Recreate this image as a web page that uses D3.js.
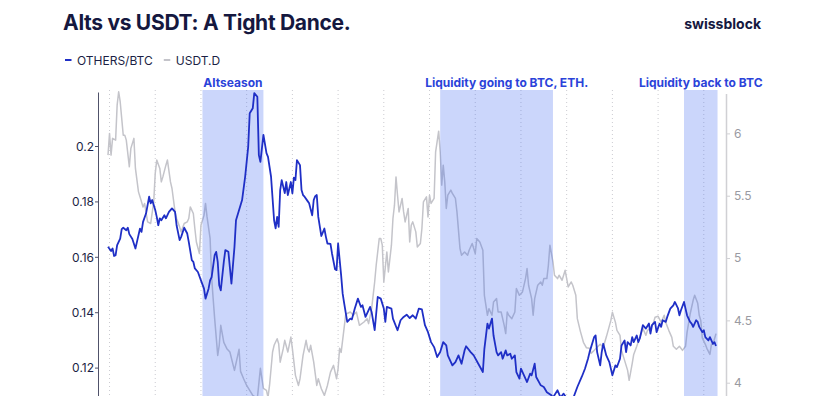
<!DOCTYPE html>
<html>
<head>
<meta charset="utf-8">
<script src="https://cdn.jsdelivr.net/npm/d3@7"></script>
<style>
  html, body { margin: 0; padding: 0; background: #fff; }
  svg { display: block; font-family: Inter, "Noto Sans", sans-serif; }
  .grid line { stroke: #cbcbd1; stroke-dasharray: 1,3; }
  .axis text { font-size: 12px; }
  .axis--left path, .axis--left line { stroke: #50526a; }
  .axis--left text { fill: #1c1f45; }
  .axis--right path, .axis--right line { stroke: #d0d0d4; }
  .axis--right text { fill: #9a9aa2; }
</style>
</head>
<body>
<div class="graphic-wrapper"></div>
<script>
// day offsets from startDay
const startDay = Date.UTC(2021, 0, 30);
const endDayOffset = 399;

const othersDay = [0,2,3,4,5,6,8,9,10,12,13,14,16,18,19,21,22,23,25,27,28,29,31,32,33,34,35,37,38,40,42,44,45,47,48,50,52,53,55,56,57,59,61,63,64,66,67,68,70,71,72,73,74,76,77,79,81,83,84,88,90,92,93,95,96,98,99,100,102,104,105,107,109,110,111,112,113,114,116,117,118,120,121,122,123,124,126,127,128,129,131,132,134,135,136,137,138,140,142,143,144,146,147,149,150,151,153,154,155,157,159,160,162,164,166,167,169,172,173,175,177,179,181,182,183,186,187,190,192,194,196,198,200,202,204,206,208,210,212,214,216,218,220,222,223,226,228,230,232,234,235,238,240,243,246,247,249,250,252,253,255,256,258,259,261,262,264,265,267,268,270,271,273,275,277,278,280,281,284,286,288,291,292,295,297,299,301,305,308,311,313,315,316,319,320,321,323,324,325,327,329,331,333,334,336,337,339,340,341,343,344,345,347,348,349,351,353,355,356,357,359,360,362,363,364,366,367,369,371,372,374,375,376,378,379,380,382,383,384,386,387,388,390,391,392,394,395,397,398,399];
const othersValue = [0.1636,0.1621,0.1630,0.1603,0.1606,0.1642,0.1666,0.1700,0.1705,0.1696,0.1705,0.1682,0.1664,0.1630,0.1654,0.1702,0.1690,0.1726,0.1757,0.1817,0.1793,0.1805,0.1769,0.1744,0.1714,0.1739,0.1732,0.1750,0.1739,0.1762,0.1775,0.1762,0.1714,0.1660,0.1672,0.1705,0.1684,0.1654,0.1588,0.1582,0.1558,0.1545,0.1515,0.1485,0.1449,0.1485,0.1515,0.1527,0.1606,0.1618,0.1582,0.1497,0.1479,0.1582,0.1624,0.1618,0.1503,0.1636,0.1732,0.1805,0.1889,0.1997,0.2118,0.2136,0.2191,0.2178,0.1967,0.1943,0.2040,0.1974,0.1961,0.1889,0.1732,0.1703,0.1744,0.1708,0.1841,0.1877,0.1830,0.1870,0.1823,0.1870,0.1829,0.1886,0.1877,0.1949,0.1931,0.1841,0.1823,0.1817,0.1801,0.1793,0.1750,0.1805,0.1819,0.1823,0.1744,0.1675,0.1702,0.1672,0.1648,0.1647,0.1612,0.1555,0.1552,0.1648,0.1533,0.1467,0.1432,0.1365,0.1377,0.1374,0.1414,0.1449,0.1419,0.1425,0.1383,0.1419,0.1401,0.1335,0.1455,0.1449,0.1413,0.1365,0.1419,0.1413,0.1377,0.1335,0.1371,0.1383,0.1391,0.1379,0.1389,0.1377,0.1413,0.1410,0.1353,0.1328,0.1292,0.1274,0.1238,0.1256,0.1292,0.1280,0.1244,0.1208,0.1220,0.1244,0.1214,0.1262,0.1277,0.1256,0.1244,0.1214,0.1184,0.1268,0.1359,0.1341,0.1377,0.1316,0.1256,0.1244,0.1256,0.1232,0.1262,0.1244,0.1250,0.1232,0.1244,0.1184,0.1160,0.1196,0.1172,0.1148,0.1178,0.1172,0.1214,0.1166,0.1136,0.1130,0.1111,0.1100,0.1092,0.1118,0.1092,0.1106,0.1089,0.1085,0.1130,0.1168,0.1196,0.1232,0.1255,0.1310,0.1316,0.1256,0.1208,0.1256,0.1286,0.1244,0.1220,0.1172,0.1208,0.1202,0.1232,0.1280,0.1298,0.1256,0.1292,0.1280,0.1310,0.1292,0.1316,0.1292,0.1305,0.1353,0.1341,0.1359,0.1323,0.1353,0.1365,0.1328,0.1359,0.1347,0.1371,0.1365,0.1383,0.1413,0.1425,0.1437,0.1415,0.1389,0.1407,0.1437,0.1413,0.1389,0.1365,0.1359,0.1347,0.1371,0.1365,0.1347,0.1328,0.1335,0.1310,0.1298,0.1310,0.1286,0.1292,0.1278];

const usdtDay = [0,1,2,3,5,6,7,8,10,11,12,14,15,17,18,20,21,23,24,26,28,30,31,32,34,35,36,38,39,41,42,44,45,47,48,50,52,53,54,56,57,58,60,61,63,64,65,67,68,69,70,72,73,74,76,78,80,82,83,86,87,89,91,93,95,98,100,102,104,105,106,108,109,111,112,113,115,116,118,120,121,123,125,126,128,130,131,132,133,135,137,138,140,142,144,146,148,150,151,152,153,155,156,159,161,163,165,168,170,171,173,175,176,178,179,180,181,183,184,186,187,188,189,190,191,193,194,195,197,198,199,200,202,203,205,206,207,209,210,211,212,214,215,217,218,219,220,221,222,223,225,226,228,229,231,232,234,236,237,239,241,242,244,246,247,249,250,252,253,255,256,258,260,261,262,263,265,267,268,270,272,274,275,276,278,279,280,282,284,285,286,288,289,290,292,293,295,296,298,300,301,302,304,305,307,308,310,312,314,316,317,319,321,323,325,327,330,331,333,334,336,337,339,341,342,344,345,347,349,351,353,354,356,358,359,361,363,365,366,368,370,371,373,375,377,379,380,382,384,385,387,388,389,390,392,393,395,396,397,399];
const usdtValue = [5.826,6.000,5.826,5.960,5.946,6.227,6.334,6.254,5.986,5.986,5.946,5.732,5.880,5.960,5.719,5.531,5.491,5.410,5.438,5.290,5.277,5.451,5.679,5.786,5.719,5.611,5.651,5.745,5.786,5.611,5.558,5.370,5.317,5.250,5.210,5.277,5.290,5.317,5.410,5.357,5.237,5.129,5.036,5.263,5.344,5.438,5.330,5.157,4.848,4.675,4.514,4.219,4.300,4.460,4.324,4.273,4.246,4.147,4.099,4.268,4.091,4.032,3.978,3.938,3.898,3.874,4.115,3.954,3.938,3.882,3.978,4.246,4.300,4.353,4.313,4.165,4.273,4.340,4.246,4.366,4.273,4.059,3.978,4.032,4.219,4.340,4.273,4.246,4.300,4.165,3.978,4.032,3.952,3.898,3.978,4.085,4.139,4.032,4.112,4.276,4.243,4.444,4.549,4.567,4.541,4.567,4.460,4.487,4.514,4.474,4.594,4.808,4.942,5.157,5.157,5.103,4.808,5.049,4.888,5.103,5.317,5.424,5.651,5.504,5.370,5.478,5.370,5.290,5.398,5.129,5.263,5.290,5.210,5.089,5.117,5.237,5.451,5.491,5.330,5.504,5.438,5.478,5.852,6.018,5.852,5.585,5.745,5.611,5.398,5.504,5.545,5.518,5.478,5.370,5.076,5.023,5.049,5.023,5.063,5.117,5.036,5.157,5.129,5.063,4.701,4.541,4.594,4.541,4.647,4.675,4.567,4.567,4.460,4.394,4.567,4.541,4.514,4.567,4.755,4.701,4.728,4.835,4.916,4.782,4.675,4.541,4.675,4.782,4.808,4.782,4.835,4.835,4.942,5.103,4.969,4.862,4.835,4.862,4.822,4.902,4.835,4.768,4.808,4.782,4.701,4.514,4.412,4.324,4.280,4.276,4.235,4.259,4.284,4.308,4.284,4.366,4.500,4.565,4.484,4.420,4.380,4.259,4.179,4.099,4.019,4.153,4.227,4.292,4.364,4.436,4.380,4.420,4.436,4.484,4.525,4.533,4.484,4.541,4.484,4.420,4.364,4.292,4.268,4.292,4.259,4.292,4.404,4.549,4.661,4.701,4.637,4.541,4.500,4.360,4.308,4.276,4.227,4.308,4.308,4.394];

const bandLabels = ["Altseason", "Liquidity going to BTC, ETH.", "Liquidity back to BTC"];
const bandStart = [62, 218, 378];
const bandEnd = [102, 292, 400];

const leftTicks = [0.12, 0.14, 0.16, 0.18, 0.2];
const rightTicks = [4, 4.5, 5, 5.5, 6];

const seriesNames = ["OTHERS/BTC", "USDT.D"];
const seriesColors = ["#1f2fc6", "#c4c4ca"];

let width = 828;
let height = 396;
let margin = {top: 92, right: 102, bottom: -27, left: 98};
let innerBottom = height - margin.bottom;
let pad = 10;

const day = d => d3.utcDay.offset(new Date(startDay), d);
const othersData = othersDay.map((d, i) => ({date: day(d), value: othersValue[i]}));
const usdtData = usdtDay.map((d, i) => ({date: day(d), value: usdtValue[i]}));

let svg = d3.select(".graphic-wrapper").append("svg")
  .attr("width", width)
  .attr("height", height);

let scaleX = d3.scaleUtc()
  .domain([day(0), day(endDayOffset)])
  .range([margin.left + pad, width - margin.right - pad]);

let scaleL = d3.scaleLinear()
  .domain([0.1, 0.2195])
  .range([innerBottom, margin.top]);

let scaleR = d3.scaleLinear()
  .domain([3.7, 6.32])
  .range([innerBottom - 2.9, margin.top + 1.5]);

// title + brand
svg.append("text")
  .attr("x", 63).attr("y", 30)
  .style("font-size", "21px").style("font-weight", 700)
  .style("letter-spacing", "-0.3px")
  .attr("fill", "#15183f")
  .text("Alts vs USDT: A Tight Dance.");

svg.append("text")
  .attr("x", 761).attr("y", 29)
  .attr("text-anchor", "end")
  .style("font-size", "14px").style("font-weight", 700)
  .attr("fill", "#15183f")
  .text("swissblock");

// legend
const legend = svg.append("g").attr("transform", "translate(65, 60)");
let lx = 0;
seriesNames.forEach((name, i) => {
  const g = legend.append("g").attr("transform", `translate(${lx}, 0)`);
  g.append("line").attr("x1", 0).attr("x2", 6.5).attr("y1", 0).attr("y2", 0)
    .attr("stroke", seriesColors[i]).attr("stroke-width", 2);
  const t = g.append("text").attr("x", 12).attr("y", 4.5)
    .style("font-size", "12px").attr("fill", "#1c1f45").text(name);
  lx += 12 + t.node().getComputedTextLength() + 11;
});

// grid
const gridDays = d3.utcDay.range(day(1), day(endDayOffset), 30);
svg.append("g").attr("class", "grid")
  .selectAll("line").data(gridDays).join("line")
  .attr("x1", d => scaleX(d)).attr("x2", d => scaleX(d))
  .attr("y1", margin.top - 2).attr("y2", innerBottom);

// usdt line under bands
const lineR = d3.line().x(d => scaleX(d.date)).y(d => scaleR(d.value));
const lineL = d3.line().x(d => scaleX(d.date)).y(d => scaleL(d.value));

svg.append("path").datum(usdtData)
  .attr("d", lineR)
  .attr("fill", "none")
  .attr("stroke", seriesColors[1])
  .attr("stroke-width", 1.5)
  .attr("stroke-linejoin", "round");

// shaded periods
const bands = svg.append("g").attr("class", "bands");
bandLabels.forEach((label, i) => {
  const x0 = scaleX(day(bandStart[i]));
  const x1 = scaleX(day(bandEnd[i]));
  bands.append("rect")
    .attr("x", x0).attr("y", margin.top - 2)
    .attr("width", x1 - x0).attr("height", innerBottom - margin.top + 2)
    .attr("fill", "rgb(62, 104, 240)").attr("fill-opacity", 0.27);
  bands.append("text")
    .attr("x", i === 1 ? x0 - 15 : (x0 + x1) / 2)
    .attr("y", 87)
    .attr("text-anchor", i === 1 ? "start" : "middle")
    .style("font-size", "12px").style("font-weight", 700)
    .attr("fill", "#2b43d9")
    .text(label);
});

svg.append("path").datum(othersData)
  .attr("d", lineL)
  .attr("fill", "none")
  .attr("stroke", seriesColors[0])
  .attr("stroke-width", 1.8)
  .attr("stroke-linejoin", "round");

// axes
const axisL = d3.axisLeft(scaleL)
  .tickValues(leftTicks)
  .tickFormat(d => +d.toFixed(2))
  .tickSize(3).tickSizeOuter(0).tickPadding(1);

svg.append("g").attr("class", "axis axis--left")
  .attr("transform", `translate(${margin.left}, 0)`)
  .call(axisL)
  .call(g => g.selectAll("text").attr("dy", "0.36em"));

const axisR = d3.axisRight(scaleR)
  .tickValues(rightTicks)
  .tickFormat(d => d)
  .tickSize(4).tickSizeOuter(0).tickPadding(4);

svg.append("g").attr("class", "axis axis--right")
  .attr("transform", `translate(${width - margin.right}, 0)`)
  .call(axisR)
  .call(g => g.select(".domain").attr("stroke-width", 1.5));

svg.selectAll(".axis").style("font-family", "Inter, 'Noto Sans', sans-serif");
</script>
</body>
</html>
